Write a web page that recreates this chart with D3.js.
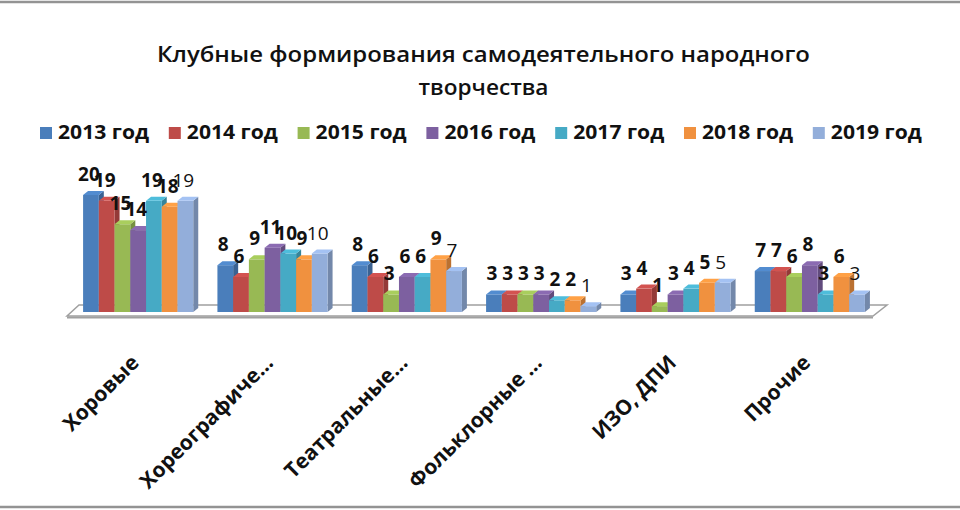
<!DOCTYPE html>
<html>
<head>
<meta charset="utf-8">
<script src="https://cdn.jsdelivr.net/npm/d3@7/dist/d3.min.js"></script>
<style>
    body { margin: 0; background: #fff; }
    svg { display: block; font-family: "Open Sans", "Noto Sans", sans-serif; }
</style>
</head>
<body>
<script>
// data
const categories = ["Хоровые", "Хореографиче…", "Театральные…", "Фольклорные …", "ИЗО, ДПИ", "Прочие"];
const years = ["2013 год", "2014 год", "2015 год", "2016 год", "2017 год", "2018 год", "2019 год"];
const values2013 = [20, 8, 8, 3, 3, 7];
const values2014 = [19, 6, 6, 3, 4, 7];
const values2015 = [15, 9, 3, 3, 1, 6];
const values2016 = [14, 11, 6, 3, 3, 8];
const values2017 = [19, 10, 6, 2, 4, 3];
const values2018 = [18, 9, 9, 2, 5, 6];
const values2019 = [19, 10, 7, 1, 5, 3];
const titleLines = ["Клубные формирования самодеятельного народного", "творчества"];

const seriesValues = [values2013, values2014, values2015, values2016, values2017, values2018, values2019];
const colors = ["#4a7ebb", "#be4b48", "#98b954", "#7d60a0", "#46aac5", "#f0913f", "#93aeda"];

const width = 960, height = 510;
const base = 312;          // front bottom of the bars
const depthX = 5, depthY = 4;

const svg = d3.select("body")
    .append("svg")
    .attr("width", width)
    .attr("height", height);

// frame lines top and bottom
svg.append("line").attr("x1", 0).attr("x2", width).attr("y1", 2).attr("y2", 2)
    .attr("stroke", "#939393").attr("stroke-width", 2.5);
svg.append("line").attr("x1", 0).attr("x2", width).attr("y1", 507).attr("y2", 507)
    .attr("stroke", "#939393").attr("stroke-width", 2.5);

// title
svg.selectAll("text.title")
    .data(titleLines)
    .enter().append("text")
    .attr("class", "title")
    .attr("x", 483.5)
    .attr("y", (d, i) => 62 + i * 33)
    .attr("text-anchor", "middle")
    .attr("font-size", 21)
    .attr("font-weight", 600)
    .attr("textLength", (d, i) => i === 0 ? 653 : 130)
    .attr("lengthAdjust", "spacingAndGlyphs")
    .attr("fill", "#111")
    .text(d => d);

// legend
const legend = svg.append("g");
const legendItem = legend.selectAll("g")
    .data(years)
    .enter().append("g")
    .attr("transform", (d, i) => `translate(${40 + i * 128.8}, 0)`);
legendItem.append("rect")
    .attr("x", 0).attr("y", 127)
    .attr("width", 12).attr("height", 12)
    .attr("fill", (d, i) => colors[i]);
legendItem.append("text")
    .attr("x", 18).attr("y", 139)
    .attr("font-size", 20)
    .attr("font-weight", "bold")
    .attr("textLength", 91)
    .attr("lengthAdjust", "spacingAndGlyphs")
    .attr("fill", "#111")
    .text(d => d);

// scales
const x0 = d3.scaleBand()
    .domain(categories)
    .range([71, 877])
    .paddingInner(0.18)
    .paddingOuter(0.09);

const x1 = d3.scaleBand()
    .domain(years)
    .range([0, x0.bandwidth()]);

const y = d3.scaleLinear()
    .domain([0, 20])
    .range([base, 195]);

// floor
const floor = svg.append("g");
floor.append("path")
    .attr("d", `M67,316 L873,316 L887,305 L79,305 Z`)
    .attr("fill", "#fff")
    .attr("stroke", "#a0a0a0")
    .attr("stroke-width", 1.5);
floor.append("line")
    .attr("x1", 67).attr("x2", 873).attr("y1", 317.5).attr("y2", 317.5)
    .attr("stroke", "#a0a0a0").attr("stroke-width", 2);

// bars, drawn left to right so each hides the side of the previous one
const bars = [];
categories.forEach((cat, ci) => {
    years.forEach((yr, si) => {
        bars.push({ cat, yr, si, value: seriesValues[si][ci] });
    });
});

const barG = svg.append("g").selectAll("g")
    .data(bars)
    .enter().append("g");

barG.each(function (d) {
    const g = d3.select(this);
    const bx = x0(d.cat) + x1(d.yr);
    const bw = x1.bandwidth();
    const top = y(d.value);
    const c = d3.color(colors[d.si]);

    g.append("path")
        .attr("d", `M${bx + bw},${top} L${bx + bw + depthX},${top - depthY} L${bx + bw + depthX},${base - depthY} L${bx + bw},${base} Z`)
        .attr("fill", c.darker(0.7));
    g.append("rect")
        .attr("x", bx).attr("y", top)
        .attr("width", bw).attr("height", base - top)
        .attr("fill", c);
    g.append("path")
        .attr("d", `M${bx},${top} L${bx + depthX},${top - depthY} L${bx + bw + depthX},${top - depthY} L${bx + bw},${top} Z`)
        .attr("fill", c.brighter(0.3));
});

// value labels
svg.append("g").selectAll("text")
    .data(bars)
    .enter().append("text")
    .attr("x", d => x0(d.cat) + x1(d.yr) + x1.bandwidth() / 2 - 2)
    .attr("y", d => y(d.value) - 14)
    .attr("text-anchor", "middle")
    .attr("font-size", 19)
    .attr("font-weight", d => d.si === 6 ? "normal" : "bold")
    .attr("fill", "#111")
    .text(d => d.value);

// category axis
const axis = svg.append("g")
    .attr("transform", "translate(2, 364)")
    .call(d3.axisBottom(x0).tickSize(0));
axis.select(".domain").remove();
axis.selectAll("text")
    .attr("x", 0).attr("y", 0).attr("dy", 0)
    .attr("transform", "rotate(-45)")
    .attr("text-anchor", "end")
    .attr("font-family", "'Open Sans', sans-serif")
    .attr("font-size", 21)
    .attr("font-weight", "bold")
    .attr("fill", "#111");
</script>
</body>
</html>
